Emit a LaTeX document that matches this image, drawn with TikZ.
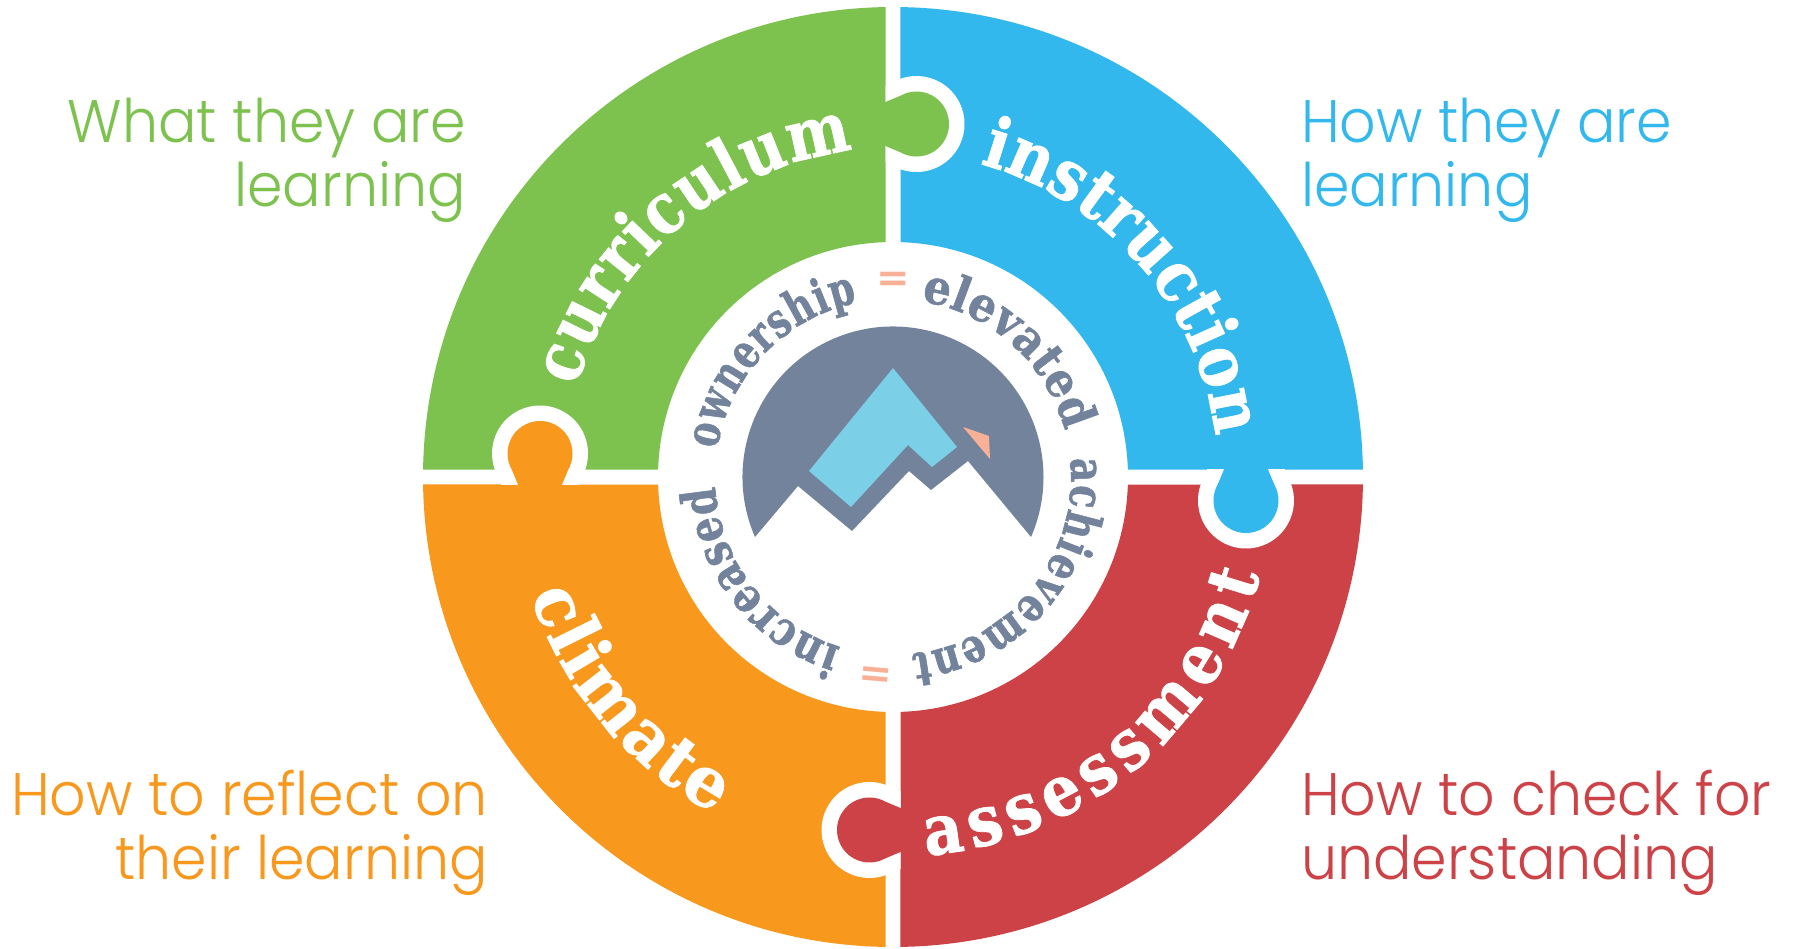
\documentclass[tikz,border=0pt]{standalone}
\usepackage{fontspec}
\usetikzlibrary{decorations.text}
\newfontfamily\slabfam{DejaVu Serif Bold}[FakeBold=1.1]
\newfontfamily\capfam{Poppins Light}[FakeStretch=0.95]
\newfontfamily\eqfam{DejaVu Sans}
\definecolor{cgreen}{HTML}{7DC24F}
\definecolor{cblue}{HTML}{32B8EC}
\definecolor{cred}{HTML}{CD4246}
\definecolor{corange}{HTML}{F8981D}
\definecolor{cslate}{HTML}{73839C}
\definecolor{csky}{HTML}{7BD0E8}
\definecolor{cpeach}{HTML}{F8B196}
\newcommand{\bigslab}[1]{\slabfam\addfontfeature{FakeStretch=#1}\fontsize{70}{70}\selectfont\color{white}}
\newcommand{\smallslab}[1]{\slabfam\addfontfeature{FakeStretch=#1}\fontsize{48}{48}\selectfont\color{cslate}}
\newcommand{\piecepath}{(90.914:470) arc[start angle=90.914, end angle=179.086, radius=470] -- (178.17:235) arc[start angle=178.17, end angle=91.83, radius=235] -- cycle}
\newcommand{\tabpath}{(-7.5,331) -- (7.5,324.7) arc[start angle=-119.5, end angle=119.5, radius=32.5] -- (-7.5,375)}
\tikzset{
  caption/.style={inner sep=0pt, font=\capfam\fontsize{60}{64}\selectfont},
  eqsign/.style={inner sep=0pt, text=cpeach, font=\eqfam\bfseries\fontsize{40}{40}\selectfont},
  tabring/.style={draw=white, line width=31pt, line join=round},
  curved/.style={decorate, decoration={text along path, text={#1}, text align={right indent=4pt, fit to path}}},
}
\begin{document}
\begin{tikzpicture}[x=1pt,y=1pt]
\useasboundingbox (-893,-471) rectangle (910,477);
\fill[white] (-893,-471) rectangle (910,477);
% quadrants
\foreach \c [count=\i from 0] in {cgreen,cblue,cred,corange}{
  \fill[\c, rotate=-90*\i] \piecepath;
}
% white rings round the tabs
\foreach \i in {0,1,2,3}{
  \begin{scope}[rotate=-90*\i]
    \clip (-7.5,270) rectangle (90,440);
    \draw[tabring] \tabpath;
  \end{scope}
}
% tabs
\foreach \c [count=\i from 0] in {cgreen,cblue,cred,corange}{
  \fill[\c, rotate=-90*\i] (-9,331) -- \tabpath -- (-9,375) -- cycle;
}
% logo
\fill[cslate] (-138,-60) arc[start angle=203.5, end angle=-23.5, radius=150.5]
  -- (75,16) -- (38,-13) -- (16,6) -- (-41,-54) -- (-95,-9) -- cycle;
\fill[csky] (0,109) -- (64,30) -- (39,10) -- (15,32) -- (-42,-30) -- (-84,6) -- cycle;
\fill[cpeach] (70,50) -- (96,41) -- (97,18) -- cycle;
% big words
\path[curved={|\bigslab{0.85}|curriculum}] (164:329) arc[start angle=164, end angle=96.3, radius=329];
\path[curved={|\bigslab{0.87}|instruction}] (74.5:325) arc[start angle=74.5, end angle=6.5, radius=325];
\path[curved={|\bigslab{0.88}|assessment}] (-85:380) arc[start angle=-85, end angle=-14.4, radius=380];
\path[curved={|\bigslab{0.95}|climate}] (198:381) arc[start angle=198, end angle=242.6, radius=381];
% ring words
\path[curved={|\smallslab{0.9}|elevated}] (81:178) arc[start angle=81, end angle=13.7, radius=178];
\path[curved={|\smallslab{0.78}|achievement}] (6:178) arc[start angle=6, end angle=-85.3, radius=178];
\path[curved={|\smallslab{0.81}|increased}] (253:178) arc[start angle=253, end angle=181.7, radius=178];
\path[curved={|\smallslab{0.75}|ownership}] (171:178) arc[start angle=171, end angle=100.2, radius=178];
\node[eqsign] (eqtop) at (0,195.5) {=};
\node[eqsign, rotate=175] (eqbottom) at (-17,-195) {=};
% captions
\node[caption, text=cgreen, anchor=base east] (c1a) at (-427,334) {What they are};
\node[caption, text=cgreen, anchor=base east] (c1b) at (-427,270) {learning};
\node[caption, text=cblue, anchor=base west] (c2a) at (408,334) {How they are};
\node[caption, text=cblue, anchor=base west] (c2b) at (408,270) {learning};
\node[caption, text=corange, anchor=base east] (c3a) at (-405,-338) {How to reflect on};
\node[caption, text=corange, anchor=base east] (c3b) at (-405,-402) {their learning};
\node[caption, text=cred, anchor=base west] (c4a) at (408,-338) {How to check for};
\node[caption, text=cred, anchor=base west] (c4b) at (408,-402) {understanding};
\end{tikzpicture}
\end{document}
